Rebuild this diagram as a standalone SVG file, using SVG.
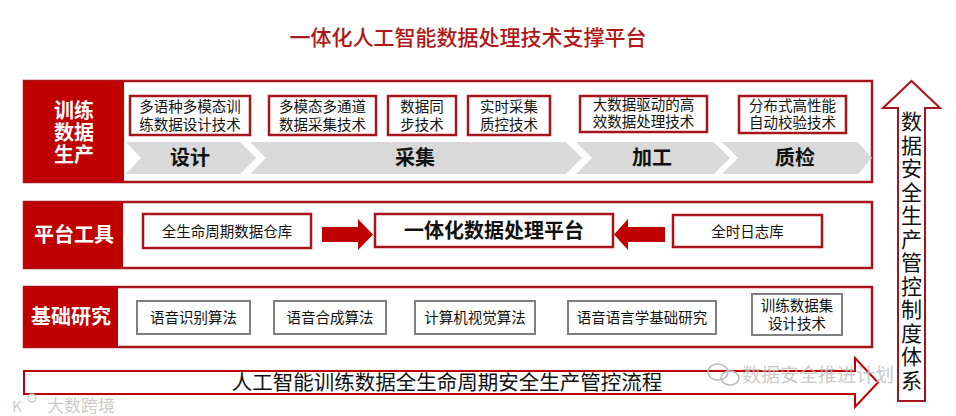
<svg xmlns="http://www.w3.org/2000/svg" width="956" height="416" viewBox="0 0 956 416">
<style>
.t{font-family:"Noto Sans CJK SC","Noto Sans",sans-serif}
.sec{fill:#fff;stroke:#a8141b;stroke-width:2.5}
.lab{fill:#c00000}
.labt{font-family:"Noto Sans CJK SC",sans-serif;font-weight:bold;font-size:20px;fill:#fff;text-anchor:middle}
.rb{fill:#fff;stroke:#a8141b;stroke-width:2.5}
.gb{fill:#fff;stroke:#7f7f7f;stroke-width:2}
.bt{font-family:"Noto Sans CJK SC",sans-serif;font-size:14.5px;fill:#111;text-anchor:middle}
.chev{fill:#d9d9d9}
.ct{font-family:"Noto Sans CJK SC",sans-serif;font-weight:bold;font-size:20px;fill:#111;text-anchor:middle}
.wm{font-family:"Noto Sans CJK SC",sans-serif;fill:#bbb;fill-opacity:0.8}
</style>
<rect width="956" height="416" fill="#fff"/>
<text x="468" y="45" class="t" font-size="21" fill="#b01818" text-anchor="middle" font-weight="500">一体化人工智能数据处理技术支撑平台</text>

<g id="sec-train">
<rect class="sec" x="24" y="81" width="848" height="101"/>
<rect class="lab" x="24" y="81" width="100" height="101"/>
<text class="labt" font-size="19"><tspan x="74" y="118">训练</tspan><tspan x="74" y="140">数据</tspan><tspan x="74" y="162">生产</tspan></text>
</g>
<g id="chevrons">
<polygon class="chev" points="126,142 240,142 256,158 240,174 126,174 141,158"/>
<polygon class="chev" points="250,142 566,142 582,158 566,174 250,174 266,158"/>
<polygon class="chev" points="576,142 714,142 730,158 714,174 576,174 592,158"/>
<polygon class="chev" points="722,142 858,142 872,158 858,174 722,174 738,158"/>
<text class="ct" x="190" y="165">设计</text>
<text class="ct" x="415" y="165">采集</text>
<text class="ct" x="652" y="165">加工</text>
<text class="ct" x="795" y="165">质检</text>
</g>
<g id="n-design"><rect class="rb" x="130" y="96" width="120" height="39"/><text class="bt"><tspan x="190" y="112">多语种多模态训</tspan><tspan x="190" y="130">练数据设计技术</tspan></text></g>
<g id="n-collect"><rect class="rb" x="269" y="96" width="107" height="39"/><text class="bt"><tspan x="322.5" y="112">多模态多通道</tspan><tspan x="322.5" y="130">数据采集技术</tspan></text></g>
<g id="n-sync"><rect class="rb" x="388" y="96" width="68" height="39"/><text class="bt"><tspan x="422" y="112">数据同</tspan><tspan x="422" y="130">步技术</tspan></text></g>
<g id="n-qc"><rect class="rb" x="468" y="96" width="82" height="39"/><text class="bt"><tspan x="509" y="112">实时采集</tspan><tspan x="509" y="130">质控技术</tspan></text></g>
<g id="n-bigdata"><rect class="rb" x="580" y="96" width="127" height="36"/><text class="bt"><tspan x="643.5" y="110">大数据驱动的高</tspan><tspan x="643.5" y="127">效数据处理技术</tspan></text></g>
<g id="n-verify"><rect class="rb" x="739" y="96" width="107" height="37"/><text class="bt"><tspan x="792.5" y="111">分布式高性能</tspan><tspan x="792.5" y="128">自动校验技术</tspan></text></g>

<g id="sec-platform">
<rect class="sec" x="24" y="202" width="848" height="66"/>
<rect class="lab" x="24" y="202" width="99" height="66"/>
<text class="labt" x="74" y="242">平台工具</text>
</g>
<g id="n-warehouse"><rect class="rb" x="143" y="214" width="168" height="34"/><text class="bt" x="227" y="236.5" font-size="15.5">全生命周期数据仓库</text></g>
<g id="n-platform"><rect class="rb" x="375" y="214" width="238" height="33"/><text class="ct" x="494" y="238">一体化数据处理平台</text></g>
<g id="n-log"><rect class="rb" x="673" y="215" width="149" height="32"/><text class="bt" x="747.5" y="236.5" font-size="15.5">全时日志库</text></g>
<g id="connectors">
<polygon fill="#c00000" points="322,227 358,227 358,219 373,234.5 358,250 358,242 322,242"/>
<polygon fill="#c00000" points="665,227 628,227 628,219 614,234.5 628,250 628,242 665,242"/>
<polygon fill="#fff" stroke="#c00000" stroke-width="2" points="24,371 855,371 855,358 878,382.5 855,407 855,394 24,394"/>
<polygon fill="#fff" stroke="#a8141b" stroke-width="2" points="898,401 898,108 883,108 911.5,81 940,108 925,108 925,401"/>
</g>
<text x="447" y="390" font-family="Noto Sans CJK SC,sans-serif" font-size="20.5" fill="#111" text-anchor="middle">人工智能训练数据全生命周期安全生产管控流程</text>
<text x="911.5" y="111" writing-mode="vertical-rl" font-family="Noto Sans CJK SC,sans-serif" font-size="21" letter-spacing="2.5" fill="#111">数据安全生产管控制度体系</text>

<g id="sec-research">
<rect class="sec" x="24" y="287" width="848" height="60"/>
<rect class="lab" x="24" y="287" width="94" height="60"/>
<text class="labt" x="71" y="324">基础研究</text>
</g>
<g id="n-asr"><rect class="gb" x="137" y="301" width="113" height="33"/><text class="bt" x="193.5" y="322.5">语音识别算法</text></g>
<g id="n-tts"><rect class="gb" x="274" y="301" width="112" height="33"/><text class="bt" x="330" y="322.5">语音合成算法</text></g>
<g id="n-cv"><rect class="gb" x="415" y="301" width="120" height="33"/><text class="bt" x="475" y="322.5">计算机视觉算法</text></g>
<g id="n-ling"><rect class="gb" x="568" y="301" width="148" height="33"/><text class="bt" x="642" y="322.5">语音语言学基础研究</text></g>
<g id="n-dataset"><rect class="gb" x="752" y="294" width="90" height="41"/><text class="bt"><tspan x="797" y="311">训练数据集</tspan><tspan x="797" y="329">设计技术</tspan></text></g>

<g id="watermarks">
<text class="wm" x="742" y="382" font-size="19">数据安全推进计划</text>
<ellipse cx="718" cy="372" rx="10" ry="8" fill="none" stroke="#bbb" stroke-width="1.5"/>
<ellipse cx="730" cy="378" rx="9" ry="7" fill="none" stroke="#bbb" stroke-width="1.5"/>
<text class="wm" x="12" y="412" font-size="15" fill="#ccc">K</text>
<circle cx="32" cy="398" r="4" fill="none" stroke="#ccc" stroke-width="1.5"/>
<text class="wm" x="47" y="412" font-size="17" fill="#ccc">大数跨境</text>
</g>
</svg>
